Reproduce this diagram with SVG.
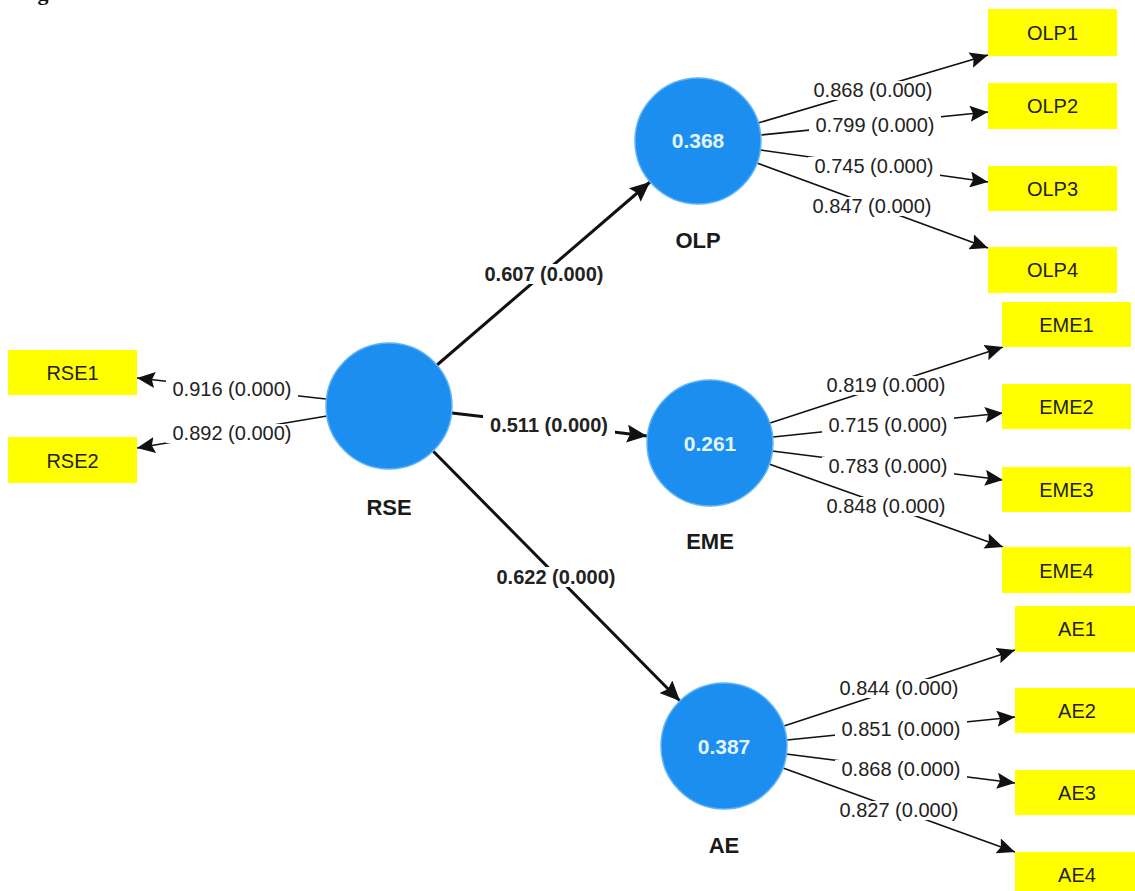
<svg xmlns="http://www.w3.org/2000/svg" width="1135" height="891" viewBox="0 0 1135 891">
<style>
.lv{fill:#1c8ef0;stroke:#5fb4f8;stroke-width:1.5}
.r2{font-family:"Liberation Sans",Arial,sans-serif;font-size:21px;font-weight:bold;fill:#e2f5ff;text-anchor:middle}
.ln{font-family:"Liberation Sans",Arial,sans-serif;font-size:22px;font-weight:bold;fill:#1a1a1a;text-anchor:middle}
.ind{fill:#ffff00}
.it{font-family:"Liberation Sans",Arial,sans-serif;font-size:20px;fill:#222;text-anchor:middle}
.el{font-family:"Liberation Sans",Arial,sans-serif;font-size:20px;fill:#222;text-anchor:middle}
.pl{font-family:"Liberation Sans",Arial,sans-serif;font-size:20px;font-weight:bold;fill:#222;text-anchor:middle}
.thin{stroke:#111;stroke-width:1.6;fill:none;marker-end:url(#ah)}
.thick{stroke:#111;stroke-width:3;fill:none;marker-end:url(#ahb)}
.bg{fill:#fff}
</style>
<defs>
<marker id="ah" markerUnits="userSpaceOnUse" markerWidth="20" markerHeight="16" refX="18" refY="8" orient="auto"><path d="M0,0 L18,8 L0,16 L3,8 Z" fill="#111"/></marker>
<marker id="ahb" markerUnits="userSpaceOnUse" markerWidth="22" markerHeight="18" refX="20" refY="9" orient="auto"><path d="M0,0 L20,9 L0,18 L3,9 Z" fill="#111"/></marker>
</defs>
<rect width="1135" height="891" fill="#fff"/>
<text x="18" y="-0.5" font-family="Liberation Serif,serif" font-size="22" font-weight="bold" fill="#111">Figure</text>

<g id="connectors">
<line class="thick" x1="437" y1="365" x2="650" y2="182"/>
<line class="thick" x1="452" y1="413" x2="647" y2="436"/>
<line class="thick" x1="433" y1="451" x2="680" y2="701"/>
<line class="thin" x1="326" y1="399" x2="137" y2="378"/>
<line class="thin" x1="327" y1="416" x2="137" y2="448"/>
<line class="thin" x1="758" y1="123" x2="988" y2="55"/>
<line class="thin" x1="761" y1="135" x2="988" y2="112"/>
<line class="thin" x1="760" y1="150" x2="988" y2="182"/>
<line class="thin" x1="757" y1="163" x2="988" y2="248"/>
<line class="thin" x1="770" y1="423" x2="1003" y2="347"/>
<line class="thin" x1="773" y1="437" x2="1003" y2="413"/>
<line class="thin" x1="772" y1="451" x2="1003" y2="480"/>
<line class="thin" x1="769" y1="464" x2="1003" y2="547"/>
<line class="thin" x1="784" y1="726" x2="1015" y2="650"/>
<line class="thin" x1="787" y1="740" x2="1015" y2="717"/>
<line class="thin" x1="786" y1="754" x2="1015" y2="783"/>
<line class="thin" x1="783" y1="768" x2="1015" y2="852"/>
<rect class="bg" x="478" y="264" width="132" height="20"/><text class="pl" x="544" y="281">0.607 (0.000)</text>
<rect class="bg" x="483" y="415" width="132" height="20"/><text class="pl" x="549" y="432">0.511 (0.000)</text>
<rect class="bg" x="490" y="567" width="132" height="20"/><text class="pl" x="556" y="584">0.622 (0.000)</text>
<rect class="bg" x="166" y="380" width="132" height="19"/><text class="el" x="232" y="396">0.916 (0.000)</text>
<rect class="bg" x="166" y="424" width="132" height="19"/><text class="el" x="232" y="440">0.892 (0.000)</text>
<rect class="bg" x="807" y="81" width="132" height="19"/><text class="el" x="873" y="97">0.868 (0.000)</text>
<rect class="bg" x="809" y="116" width="132" height="19"/><text class="el" x="875" y="132">0.799 (0.000)</text>
<rect class="bg" x="808" y="157" width="132" height="19"/><text class="el" x="874" y="173">0.745 (0.000)</text>
<rect class="bg" x="806" y="197" width="132" height="19"/><text class="el" x="872" y="213">0.847 (0.000)</text>
<rect class="bg" x="820" y="376" width="132" height="19"/><text class="el" x="886" y="392">0.819 (0.000)</text>
<rect class="bg" x="822" y="416" width="132" height="19"/><text class="el" x="888" y="432">0.715 (0.000)</text>
<rect class="bg" x="822" y="457" width="132" height="19"/><text class="el" x="888" y="473">0.783 (0.000)</text>
<rect class="bg" x="820" y="497" width="132" height="19"/><text class="el" x="886" y="513">0.848 (0.000)</text>
<rect class="bg" x="833" y="679" width="132" height="19"/><text class="el" x="899" y="695">0.844 (0.000)</text>
<rect class="bg" x="835" y="720" width="132" height="19"/><text class="el" x="901" y="736">0.851 (0.000)</text>
<rect class="bg" x="835" y="760" width="132" height="19"/><text class="el" x="901" y="776">0.868 (0.000)</text>
<rect class="bg" x="833" y="801" width="132" height="19"/><text class="el" x="899" y="817">0.827 (0.000)</text>
</g>

<g id="RSE"><circle class="lv" cx="389" cy="406" r="63"/><text class="ln" x="389" y="515">RSE</text></g>
<g id="OLP"><circle class="lv" cx="698" cy="141" r="63"/><text class="r2" x="698" y="148">0.368</text><text class="ln" x="698" y="248">OLP</text></g>
<g id="EME"><circle class="lv" cx="710" cy="443" r="63"/><text class="r2" x="710" y="451">0.261</text><text class="ln" x="710" y="549">EME</text></g>
<g id="AE"><circle class="lv" cx="724" cy="746" r="63"/><text class="r2" x="724" y="754">0.387</text><text class="ln" x="724" y="853">AE</text></g>

<g id="RSE1"><rect class="ind" x="8" y="350" width="129" height="45"/><text class="it" x="72.5" y="380">RSE1</text></g>
<g id="RSE2"><rect class="ind" x="8" y="437" width="129" height="46"/><text class="it" x="72.5" y="468">RSE2</text></g>
<g id="OLP1"><rect class="ind" x="988" y="9" width="129" height="47"/><text class="it" x="1052.5" y="40">OLP1</text></g>
<g id="OLP2"><rect class="ind" x="988" y="83" width="129" height="46"/><text class="it" x="1052.5" y="113">OLP2</text></g>
<g id="OLP3"><rect class="ind" x="988" y="166" width="129" height="45"/><text class="it" x="1052.5" y="196">OLP3</text></g>
<g id="OLP4"><rect class="ind" x="988" y="247" width="129" height="46"/><text class="it" x="1052.5" y="277">OLP4</text></g>
<g id="EME1"><rect class="ind" x="1002" y="302" width="129" height="45"/><text class="it" x="1066.5" y="332">EME1</text></g>
<g id="EME2"><rect class="ind" x="1002" y="384" width="129" height="45"/><text class="it" x="1066.5" y="414">EME2</text></g>
<g id="EME3"><rect class="ind" x="1002" y="467" width="129" height="45"/><text class="it" x="1066.5" y="497">EME3</text></g>
<g id="EME4"><rect class="ind" x="1002" y="547" width="129" height="46"/><text class="it" x="1066.5" y="578">EME4</text></g>
<g id="AE1"><rect class="ind" x="1015" y="606" width="125" height="46"/><text class="it" x="1077" y="636">AE1</text></g>
<g id="AE2"><rect class="ind" x="1015" y="688" width="125" height="45"/><text class="it" x="1077" y="718">AE2</text></g>
<g id="AE3"><rect class="ind" x="1015" y="770" width="125" height="45"/><text class="it" x="1077" y="800">AE3</text></g>
<g id="AE4"><rect class="ind" x="1015" y="852" width="125" height="46"/><text class="it" x="1077" y="882">AE4</text></g>
</svg>
